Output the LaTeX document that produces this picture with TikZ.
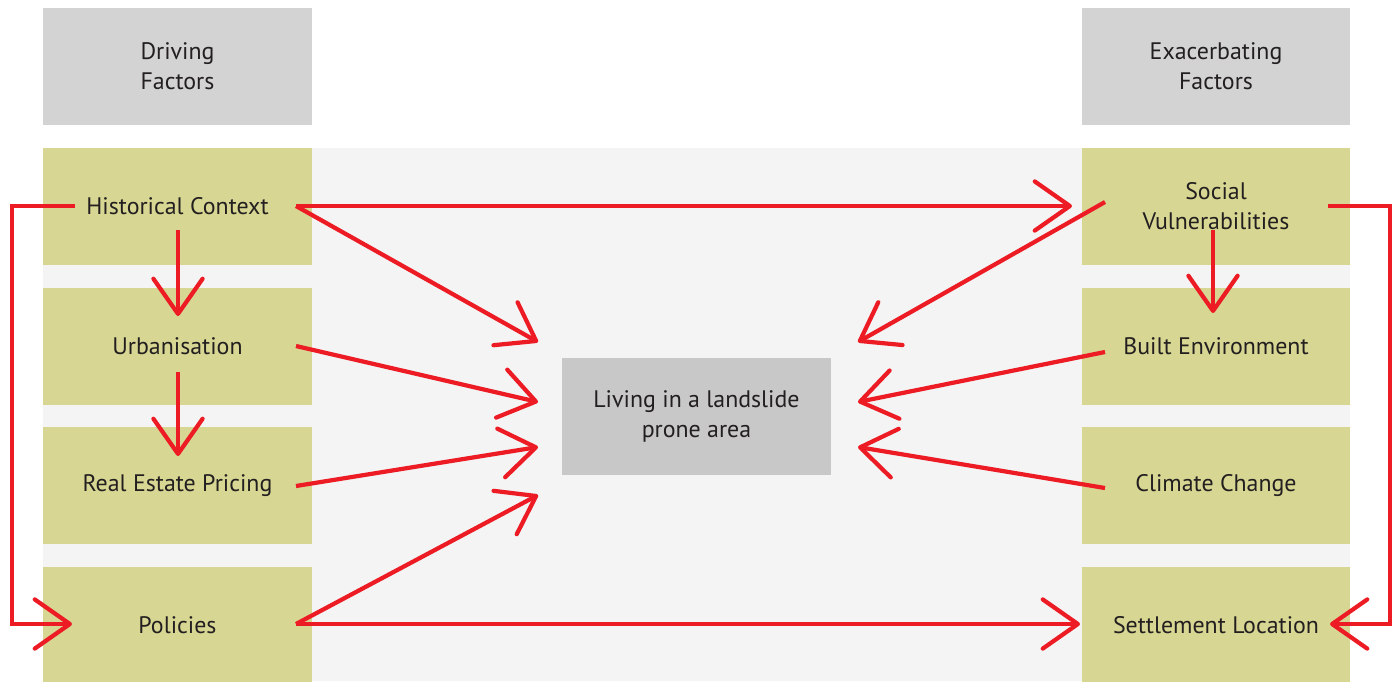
\documentclass[tikz,border=0pt]{standalone}
\usepackage{fontspec}
\setmainfont{PT Sans}
\usetikzlibrary{arrows.meta}
\definecolor{boxgreen}{HTML}{D7D793}
\definecolor{headgrey}{HTML}{D3D3D3}
\definecolor{centregrey}{HTML}{C8C8C8}
\definecolor{panelgrey}{HTML}{F4F4F4}
\definecolor{arrowred}{HTML}{ED1C24}
\definecolor{txtdark}{HTML}{231F20}
\begin{document}
\begin{tikzpicture}[
    x=0.02cm, y=-0.02cm,
    box/.style={minimum width=5.38cm,minimum height=2.34cm,inner sep=0pt,align=center,
      text=txtdark,font=\fontsize{13.6}{17}\selectfont},
    factor/.style={box,fill=boxgreen},
    header/.style={box,fill=headgrey},
    arr/.style={arrowred,line width=2.4pt,-{Straight Barb[length=20pt,width=28pt,round]}}
]
\useasboundingbox (0,0) rectangle (1396,681);
\fill[panelgrey] (43,148) rectangle (1350,681);

\node[header] (drivhead) at (177.5,66.5) {Driving\\Factors};
\node[header] (exachead) at (1216,66.5) {Exacerbating\\Factors};

\node[factor] (hist) at (177.5,206.5) {Historical Context};
\node[factor] (urb) at (177.5,346.5) {Urbanisation};
\node[factor] (estate) at (177.5,485.5) {Real Estate Pricing};
\node[factor] (pol) at (177.5,625.5) {Policies};

\node[factor] (social) at (1216,206.5) {Social\\Vulnerabilities};
\node[factor] (built) at (1216,346.5) {Built Environment};
\node[factor] (climate) at (1216,485.5) {Climate Change};
\node[factor] (settle) at (1216,625.5) {Settlement Location};

\node[box,fill=centregrey] (living) at (696.5,416.5) {Living in a landslide\\prone area};

\coordinate (histR) at (296,206);
\coordinate (histL) at (75,206);
\coordinate (histB) at (178,230);
\coordinate (urbT) at (178,316);
\coordinate (urbR) at (296,346);
\coordinate (urbB) at (178,372);
\coordinate (estateT) at (178,456);
\coordinate (estateR) at (296,486);
\coordinate (polL) at (72,624);
\coordinate (polR) at (296,624);

\coordinate (livingA) at (538,342);
\coordinate (livingB) at (538,402);
\coordinate (livingC) at (538,447);
\coordinate (livingD) at (538,495);
\coordinate (livingE) at (858,342);
\coordinate (livingF) at (858,402);
\coordinate (livingG) at (858,447);

\coordinate (socialIn) at (1072,206);
\coordinate (socialOut) at (1105,202);
\coordinate (socialB) at (1213,230);
\coordinate (socialR) at (1328,206);
\coordinate (builtT) at (1213,313);
\coordinate (builtL) at (1105,352);
\coordinate (climateL) at (1105,488);
\coordinate (settleL) at (1080,624);
\coordinate (settleR) at (1330,624);

\draw[arr] (histR) -- (socialIn);
\draw[arr] (histR) -- (livingA);
\draw[arr] (urbR) -- (livingB);
\draw[arr] (estateR) -- (livingC);
\draw[arr] (polR) -- (livingD);
\draw[arr] (polR) -- (settleL);
\draw[arr] (histB) -- (urbT);
\draw[arr] (urbB) -- (estateT);
\draw[arr] (histL) -- ++(-63,0) |- (polL);

\draw[arr] (socialOut) -- (livingE);
\draw[arr] (builtL) -- (livingF);
\draw[arr] (climateL) -- (livingG);
\draw[arr] (socialB) -- (builtT);
\draw[arr] (socialR) -- ++(62,0) |- (settleR);
\end{tikzpicture}
\end{document}
